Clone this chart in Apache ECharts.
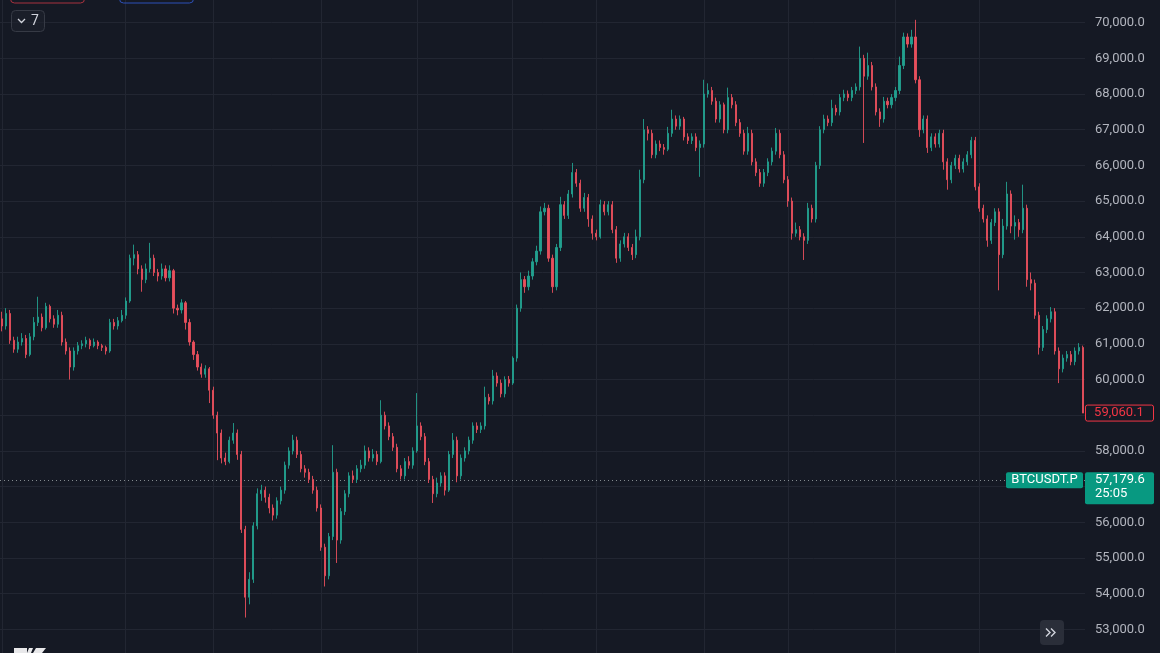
<!DOCTYPE html>
<html>
<head>
<meta charset="utf-8">
<script src="https://cdn.jsdelivr.net/npm/echarts@6/dist/echarts.min.js"></script>
<style>
html,body{margin:0;padding:0;background:#151924;overflow:hidden;width:1160px;height:653px;}
#c{position:absolute;left:0;top:-13px;width:1160px;height:678px;}
</style>
</head>
<body>
<div id="c"></div>
<script>
// ---- DATA ----
const opens = [
61700,61500,61850,61100,60850,61050,61150,60700,61200,61600,
61750,61450,62050,61700,61550,61800,61050,60800,60350,60800,
60950,61000,61100,60950,61050,60950,60900,60800,61600,61500,
61650,61800,62200,63400,63500,63100,62800,63100,63400,63000,
62900,63100,62850,63050,62000,61950,62150,61600,61050,60700,
60350,60150,60300,59700,59000,58500,57800,57700,58300,58500,
57900,55800,53900,54400,55900,56800,56900,56700,56400,56200,
56600,56900,57600,58000,58300,57900,57500,57400,57200,56900,
56400,55300,54500,55600,57400,55500,56300,56800,57300,57200,
57500,57600,58000,57800,57900,57700,59000,58700,58400,58100,
57500,57300,57700,57600,58000,58700,58400,57700,57200,56800,
57100,57300,56900,57900,58300,57300,57800,58000,58300,58700,
58600,58700,59500,59400,60100,59900,59600,60000,59900,60600,
62000,62800,62600,62900,63300,63600,64700,64800,63400,62600,
63700,64900,64600,65200,65800,65500,64800,65100,64500,64100,
64000,64900,64700,64900,64200,63400,63800,64000,63700,63500,
64000,65600,67000,66900,66300,66600,66500,66450,66900,67300,
67100,67300,66800,66700,66800,66500,66600,68000,68100,67800,
67300,67700,67000,67900,67700,67200,66900,66400,66900,66100,
65800,65500,65800,66100,66400,66900,66300,65600,65000,64100,
64200,64000,63900,64800,64500,66000,67000,67300,67200,67600,
67500,67900,68000,67900,68100,68200,69000,68500,68800,68200,
67500,67300,67800,67700,67900,68100,68800,69600,69400,69600,
68400,67000,67300,66500,66800,66600,66900,66100,65600,66000,
66200,65900,66100,66300,66700,65400,64800,64500,63900,64400,
64700,63500,64300,65200,64300,64400,64200,64800,62800,62700,
61800,60900,61400,61700,61900,60800,60300,60600,60700,60500,
60800,60900
];
const closes = [
61500,61850,61100,60850,61050,61150,60700,61200,61600,61750,
61450,62050,61700,61550,61800,61050,60800,60350,60800,60950,
61000,61100,60950,61050,60950,60900,60800,61600,61500,61650,
61800,62200,63400,63500,63100,62800,63100,63400,63000,62900,
63100,62850,63050,62000,61950,62150,61600,61050,60700,60350,
60150,60300,59700,59000,58500,57800,57700,58300,58500,57900,
55800,53900,54400,55900,56800,56900,56700,56400,56200,56600,
56900,57600,58000,58300,57900,57500,57400,57200,56900,56400,
55300,54500,55600,57400,55500,56300,56800,57300,57200,57500,
57600,58000,57800,57900,57700,59000,58700,58400,58100,57500,
57300,57700,57600,58000,58700,58400,57700,57200,56800,57100,
57300,56900,57900,58300,57300,57800,58000,58300,58700,58600,
58700,59500,59400,60100,59900,59600,60000,59900,60600,62000,
62800,62600,62900,63300,63600,64700,64800,63400,62600,63700,
64900,64600,65200,65800,65500,64800,65100,64500,64100,64000,
64900,64700,64900,64200,63400,63800,64000,63700,63500,64000,
65600,67000,66900,66300,66600,66500,66450,66900,67300,67100,
67300,66800,66700,66800,66500,66600,68000,68100,67800,67300,
67700,67000,67900,67700,67200,66900,66400,66900,66100,65800,
65500,65800,66100,66400,66900,66300,65600,65000,64100,64200,
64000,63900,64800,64500,66000,67000,67300,67200,67600,67500,
67900,68000,67900,68100,68200,69000,68500,68800,68200,67500,
67300,67800,67700,67900,68100,68800,69600,69400,69600,68400,
67000,67300,66500,66800,66600,66900,66100,65600,66000,66200,
65900,66100,66300,66700,65400,64800,64500,63900,64400,64700,
63500,64300,65200,64300,64400,64200,64800,62800,62700,61800,
60900,61400,61700,61900,60800,60300,60600,60700,60500,60800,
60900,59060.1
];
const lows = [
61350,61400,61000,60750,60750,60950,60600,60650,61100,61500,
61350,61400,61600,61450,61450,60950,60700,60000,60250,60700,
60850,60900,60850,60900,60850,60800,60700,60750,61400,61400,
61600,61700,62150,63200,62950,62460,62700,63000,62900,62750,
62800,62750,62750,61850,61800,61850,61400,60950,60550,60250,
60050,60050,59340,58900,57740,57650,57600,57650,58200,57750,
55700,53330,53700,54300,55800,56600,56550,56250,56050,56100,
56500,56800,57500,57900,57800,57400,57250,57100,56800,56300,
55200,54200,54400,55500,54860,55400,56200,56700,57100,57100,
57400,57500,57700,57700,57600,57650,58600,58300,58000,57400,
57200,57200,57500,57500,57950,58300,57600,57100,56540,56700,
57000,56750,56850,57800,57120,57200,57700,57900,58200,58500,
58500,58600,59300,59300,59800,59500,59500,59800,59850,60500,
61900,62430,62500,62800,63200,63500,64600,63300,62430,62500,
63600,64500,64500,65100,65400,64700,64700,64280,63920,63900,
63950,64600,64600,64100,63270,63300,63700,63600,63350,63400,
63900,65500,66700,66200,66200,66400,66300,66400,66800,67000,
67000,66700,66600,66600,66400,65680,66500,67900,67700,67200,
67200,66900,66900,67600,67100,66800,66300,66300,66000,65700,
65400,65400,65700,66000,66300,66200,65500,64840,63920,64000,
63900,63350,63800,64400,64400,65900,66900,67100,67100,67400,
67400,67800,67800,67800,68000,68100,66630,68400,68100,67400,
67080,67200,67600,67600,67800,68000,68700,69300,69300,68300,
66800,66900,66350,66400,66500,66500,65880,65320,65500,65900,
65800,65800,66000,66200,65300,64700,64400,63720,63800,64300,
62500,63400,64200,64100,63920,64000,64100,62600,62500,61700,
60700,60800,61300,61600,60700,59900,60200,60500,60400,60400,
60700,59060.1
];
const highs = [
61900,62000,61950,61200,61200,61300,61250,61300,61750,62320,
61850,62150,62100,61800,61950,61900,61150,60900,60900,61050,
61100,61200,61150,61150,61100,61000,60950,61700,61700,61750,
61950,62300,63500,63780,63600,63200,63250,63830,63500,63100,
63250,63200,63200,63100,62100,62250,62200,61700,61100,60800,
60450,60400,60350,59800,59100,58600,57950,58400,58780,58600,
58000,55900,54600,56000,56950,57050,57000,56800,56500,56700,
57000,57700,58100,58450,58400,58000,57600,57500,57300,57000,
56500,55400,55700,58160,57500,56400,56900,57400,57450,57600,
57750,58150,58100,58050,58000,59420,59100,58800,58500,58200,
57600,57800,57850,58100,59620,58800,58500,57800,57300,57250,
57400,57400,58000,58500,58400,57900,58100,58400,58800,58800,
58800,59800,59600,60270,60200,60000,60090,60100,60650,62100,
63000,62900,63050,63400,63750,64850,64950,64900,63500,63800,
65120,65000,65310,66070,65900,65600,65230,65200,64600,64200,
65040,65000,65000,65000,64300,63900,64110,64100,63800,64200,
65880,67300,67100,67000,66700,66700,66600,67080,67560,67400,
67400,67360,66900,66900,66900,66700,68400,68300,68200,67900,
67800,67760,68180,68000,67800,67300,67000,67080,67000,66200,
65900,65900,66200,66500,67050,67000,66400,65700,65100,64400,
64300,64100,64950,64900,66100,67100,67420,67400,67840,67700,
68000,68120,68100,68200,68300,69330,69100,69160,68900,68300,
67600,67920,67900,68000,68200,69050,69720,69700,69800,70080,
68500,67400,67400,66900,66900,67000,67000,66200,66100,66300,
66300,66200,66400,66800,66800,65500,64900,64600,64500,64800,
64800,64500,65540,65300,64600,64500,65460,64900,63000,62800,
61900,61500,61800,62030,62000,60900,60700,60800,60800,60900,
61020,60950
];
// candle indices where the vertical time grid lines sit
const timeGridIdx = [0, 31, 53, 80, 104, 128, 149, 176, 197, 224, 245];
// price axis ticks
const yMin = 52000, yMax = 71000, yStep = 1000;
const lastPrice = 59060.1;
const markPrice = 57179.6;
const markSymbol = 'BTCUSDT.P';
const markTimer = '25:05';

// ---- CHART ----
const OY = 13; // the chart div is shifted up by this many px
const fmt = v => {
  const s = (Math.round(v * 10) / 10).toFixed(1);
  const [ip, dp] = s.split('.');
  return ip.replace(/\B(?=(\d{3})+(?!\d))/g, ',') + '.' + dp;
};
const cats = closes.map((_, i) => String(i));
const candles = closes.map((c, i) => [opens[i], c, lows[i], highs[i]]);

const BG = '#151924';
const GRID = '#222632';
const UP = '#22a08f', DOWN = '#e84f5c';
const FONT = 'Roboto, "Noto Sans", sans-serif';

const chart = echarts.init(document.getElementById('c'), null, {renderer: 'canvas'});
chart.setOption({
  backgroundColor: BG,
  animation: false,
  grid: {left: 0, right: 75, top: 0, bottom: 0, containLabel: false, outerBoundsMode: 'none'},
  xAxis: {
    type: 'category', data: cats, boundaryGap: true,
    axisLine: {show: false}, axisTick: {show: false}, axisLabel: {show: false},
    splitLine: {show: false}
  },
  yAxis: {
    type: 'value', position: 'right', min: yMin, max: yMax, interval: yStep,
    axisLine: {show: false}, axisTick: {show: false},
    axisLabel: {color: '#b2b5be', fontSize: 13, fontFamily: FONT, margin: 10,
      showMinLabel: false, showMaxLabel: false, formatter: v => fmt(v)},
    splitLine: {show: true, lineStyle: {color: GRID, width: 1}}
  },
  series: [{
    type: 'candlestick', data: candles, barWidth: 1.6, z: 3,
    itemStyle: {color: UP, color0: DOWN, borderColor: UP, borderColor0: DOWN, borderWidth: 0.9},
    markLine: {
      silent: true, symbol: ['none', 'none'], animation: false, z: 1,
      label: {show: false},
      lineStyle: {type: 'solid', color: GRID, width: 1},
      data: timeGridIdx.map(i => ({xAxis: i, lineStyle: {type: 'solid', color: GRID, width: 1}}))
        .concat([{yAxis: markPrice, lineStyle: {type: [1, 3], color: 'rgba(190,200,200,0.65)', width: 1}}])
    }
  }]
});

const yLast = chart.convertToPixel({yAxisIndex: 0}, lastPrice);
const yMark = chart.convertToPixel({yAxisIndex: 0}, markPrice);
const axisX = 1085;
const Z = 100;

chart.setOption({
  graphic: [
    // cut-off indicator boxes at top
    {type: 'rect', z: Z, shape: {x: 10.5, y: OY - 12, width: 74, height: 15, r: 4}, style: {fill: 'none', stroke: '#a8323f', lineWidth: 1}},
    {type: 'rect', z: Z, shape: {x: 119.5, y: OY - 12, width: 74, height: 15, r: 4}, style: {fill: 'none', stroke: '#2d50b8', lineWidth: 1}},
    // collapse button "7"
    {type: 'rect', z: Z, shape: {x: 11.5, y: OY + 10.5, width: 33, height: 21, r: 4}, style: {fill: 'rgba(30,34,45,0.6)', stroke: '#363a45', lineWidth: 1}},
    {type: 'polyline', z: Z, shape: {points: [[18, OY + 19], [21.5, OY + 22.5], [25, OY + 19]]}, style: {stroke: '#d1d4dc', lineWidth: 1.3, fill: 'none'}},
    {type: 'text', z: Z, style: {x: 31, y: OY + 21, text: '7', fill: '#d1d4dc', fontSize: 14, fontFamily: FONT, verticalAlign: 'middle'}},
    // last price label (red)
    {type: 'rect', z: Z, shape: {x: axisX + 0.5, y: yLast - 8, width: 68, height: 16, r: 2}, style: {fill: BG, stroke: '#f23645', lineWidth: 1}},
    {type: 'text', z: Z + 1, style: {x: axisX + 34, y: yLast, text: fmt(lastPrice), fill: '#f23645', fontSize: 13, fontFamily: FONT, align: 'center', verticalAlign: 'middle'}},
    // symbol label (green) on the price line
    {type: 'rect', z: Z, shape: {x: 1006, y: yMark - 8, width: 77, height: 16, r: 2}, style: {fill: '#089981'}},
    {type: 'text', z: Z + 1, style: {x: 1044.5, y: yMark, text: markSymbol, fill: '#ffffff', fontSize: 13, fontFamily: FONT, align: 'center', verticalAlign: 'middle'}},
    {type: 'rect', z: Z, shape: {x: axisX, y: yMark - 8, width: 69, height: 32, r: 2}, style: {fill: '#089981'}},
    {type: 'text', z: Z + 1, style: {x: axisX + 10, y: yMark, text: fmt(markPrice), fill: '#ffffff', fontSize: 13, fontFamily: FONT, verticalAlign: 'middle'}},
    {type: 'text', z: Z + 1, style: {x: axisX + 10, y: yMark + 14, text: markTimer, fill: '#ffffff', fontSize: 13, fontFamily: FONT, verticalAlign: 'middle'}},
    // scroll-to-realtime button
    {type: 'rect', z: Z, shape: {x: 1040, y: OY + 620, width: 24, height: 25, r: 4}, style: {fill: '#2a2e39'}},
    {type: 'polyline', z: Z, shape: {points: [[1046, OY + 628.5], [1050, OY + 632.5], [1046, OY + 636.5]]}, style: {stroke: '#d1d4dc', lineWidth: 1.4, fill: 'none'}},
    {type: 'polyline', z: Z, shape: {points: [[1051, OY + 628.5], [1055, OY + 632.5], [1051, OY + 636.5]]}, style: {stroke: '#d1d4dc', lineWidth: 1.4, fill: 'none'}},
    // logo (cut off at bottom)
    {type: 'rect', z: Z, shape: {x: 14, y: OY + 648, width: 13, height: 6}, style: {fill: '#e8e8ea'}},
    {type: 'polygon', z: Z, shape: {points: [[29, OY + 648], [33, OY + 648], [31, OY + 653], [27, OY + 653]]}, style: {fill: '#e8e8ea'}},
    {type: 'polygon', z: Z, shape: {points: [[36, OY + 648], [46, OY + 648], [42, OY + 653], [33, OY + 653]]}, style: {fill: '#e8e8ea'}}
  ]
});
</script>
</body>
</html>
